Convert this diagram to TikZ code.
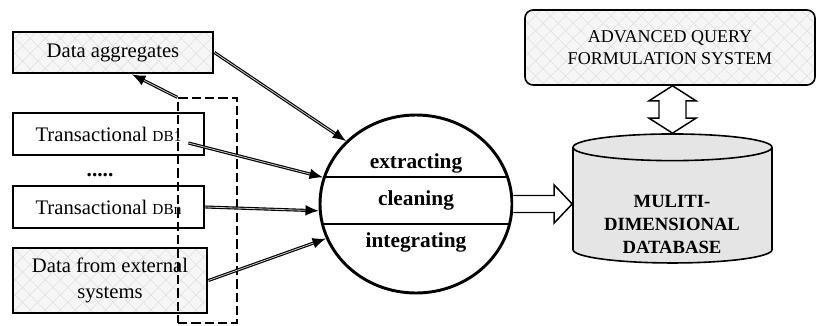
\documentclass[tikz,border=0pt]{standalone}
\usepackage{fontspec}
\setmainfont{Liberation Serif}
\usetikzlibrary{positioning,arrows.meta,calc,shapes.geometric,patterns.meta}

\tikzset{
  box/.style={draw,line width=2.1pt,inner sep=0pt,align=center,
    font=\fontsize{15.5}{20}\selectfont},
  hatch/.style={preaction={fill=gray!7},
    preaction={pattern={Lines[angle=45,distance=8pt,line width=0.4pt]},pattern color=gray!25},
    preaction={pattern={Lines[angle=-45,distance=8pt,line width=0.4pt]},pattern color=gray!25}},
  feed/.style={->,line width=0.85pt,double=gray!40,double distance=0.6pt},
  fat/.style={draw,line width=1.1pt,fill=white,line join=miter},
  step text/.style={font=\fontsize{16}{16}\selectfont\bfseries},
}

\begin{document}
\begin{tikzpicture}[x=0.75pt,y=-0.75pt,>={Latex[length=10pt,width=8pt]}]
\useasboundingbox (0,0) rectangle (816,325);

% sources
\node[box,hatch,minimum width=150pt,minimum height=30.75pt] (agg) at (113,52.5) {Data aggregates};
\node[box,minimum width=143.25pt,minimum height=31.5pt] (db1) at (108.5,134) {Transactional {\fontsize{11.5}{12}\selectfont DB1}};
\node[font=\fontsize{16}{16}\selectfont\bfseries] (dots) at (100,175) {.....};
\node[box,minimum width=143.25pt,minimum height=31.5pt] (dbn) at (108.5,207) {Transactional {\fontsize{11.5}{12}\selectfont DBn}};
\node[box,hatch,minimum width=145.5pt,minimum height=48.75pt] (ext) at (110,280.5) {Data from external\\systems};
\node[draw,line width=1pt,dash pattern=on 7pt off 3pt,minimum width=44.25pt,minimum height=168.75pt] (grp) at (207.5,210.5) {};

% processing
\node[ellipse,draw,line width=2.2pt,minimum width=144pt,minimum height=133.5pt,inner sep=0pt] (proc) at (416,204) {};
\begin{scope}
  \clip (proc.center) ellipse [x radius=72pt,y radius=66.75pt];
  \draw[line width=2.2pt] ($(proc.west)+(0,-27)$) -- ($(proc.east)+(0,-27)$);
  \draw[line width=2.2pt] ($(proc.west)+(0,20)$) -- ($(proc.east)+(0,20)$);
\end{scope}
\node[step text] (ext1) at (416,163) {extracting};
\node[step text] (cln) at (416,200) {cleaning};
\node[step text] (intg) at (416,242) {integrating};

% storage and query
\node[cylinder,shape border rotate=90,draw,line width=1.2pt,fill=gray!20,aspect=3,
  minimum width=149.25pt,minimum height=96.75pt] (mdb) at (672.5,207.5) {};
\node[align=center,font=\fontsize{14}{17}\selectfont\bfseries] (mdbt) at (672,224.5) {MULITI-\\DIMENSIONAL\\DATABASE};
\node[draw,hatch,line width=1.2pt,rounded corners=6pt,minimum width=217.5pt,minimum height=56.25pt,
  align=center,font=\fontsize{13.5}{17}\selectfont] (qry) at (670,47.5) {ADVANCED QUERY\\FORMULATION SYSTEM};

\draw[feed] (agg.east) -- (proc.138);
\draw[feed] ($(db1.east)+(-17,9)$) -- (proc.164);
\draw[feed] (dbn.east) -- (proc.184);
\draw[feed] (ext.east) -- (proc.201);
\draw[feed] (grp.north west) -- ($(agg.south)+(19,0)$);

\coordinate (ha) at (proc.east);
\coordinate (hb) at (mdb.west |- proc.east);
\draw[fat] ($(ha)+(0,-8.5)$) -- ($(hb)+(-18,-8.5)$) -- ($(hb)+(-18,-19)$) -- (hb)
  -- ($(hb)+(-18,19)$) -- ($(hb)+(-18,8.5)$) -- ($(ha)+(0,8.5)$);

\coordinate (va) at (mdb.north |- qry.south);
\coordinate (vb) at (mdb.north);
\draw[fat] (va) -- ($(va)+(23.5,15)$) -- ($(va)+(13.5,15)$) -- ($(vb)+(13.5,-15)$) -- ($(vb)+(23.5,-15)$)
  -- (vb) -- ($(vb)+(-23.5,-15)$) -- ($(vb)+(-13.5,-15)$) -- ($(va)+(-13.5,15)$) -- ($(va)+(-23.5,15)$) -- cycle;
\end{tikzpicture}
\end{document}
